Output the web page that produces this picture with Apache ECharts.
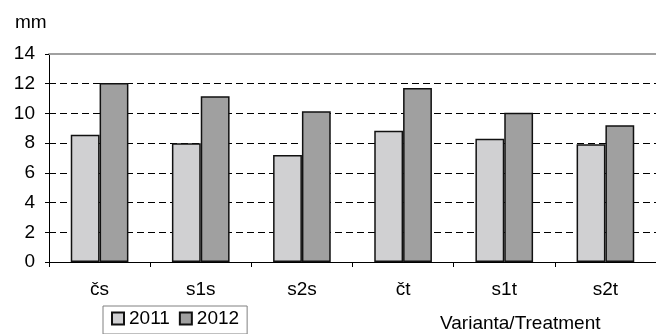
<!DOCTYPE html>
<html>
<head>
<meta charset="utf-8">
<script src="https://cdn.jsdelivr.net/npm/echarts@6/dist/echarts.min.js"></script>
<style>
  html, body { margin: 0; padding: 0; background: #fff; }
  #chart { width: 656px; height: 334px; }
</style>
</head>
<body>
<div id="chart"></div>
<script>
// Treatment variants along the category axis
const categories = ['čs', 's1s', 's2s', 'čt', 's1t', 's2t'];
// Mean values (mm) per year
const values2011 = [8.57, 8.0, 7.2, 8.84, 8.3, 7.92];
const values2012 = [12.05, 11.15, 10.14, 11.71, 10.05, 9.2];
const seriesNames = ['2011', '2012'];
const yTicks = { min: 0, max: 14, step: 2 };
const unitLabel = 'mm';
const axisTitle = 'Varianta/Treatment';

const font = 'Liberation Sans, Arial, sans-serif';
const fs = 19;
const chart = echarts.init(document.getElementById('chart'), null, { renderer: 'canvas' });

chart.setOption({
  animation: false,
  backgroundColor: '#fff',
  textStyle: { fontFamily: font },
  grid: { left: 49, right: -8, top: 54, bottom: 72, containLabel: false },
  legend: {
    left: 103, top: 306,
    orient: 'horizontal',
    data: seriesNames,
    borderColor: '#808080', borderWidth: 1,
    padding: [3, 8, 6, 8],
    itemWidth: 12, itemHeight: 12, itemGap: 9,
    icon: 'rect',
    textStyle: { fontFamily: font, fontSize: fs, color: '#000', padding: [0, 0, 0, 0] }
  },
  xAxis: [{
    type: 'category',
    data: categories,
    boundaryGap: true,
    axisLine: { lineStyle: { color: '#000', width: 1 } },
    axisTick: { show: true, length: 5, inside: false, lineStyle: { color: '#000' } },
    axisLabel: { fontFamily: font, fontSize: fs, color: '#000', margin: 18 },
    splitLine: { show: false }
  }, {
    // solid frame line along the top of the plot
    type: 'category',
    position: 'top',
    data: categories,
    axisLine: { lineStyle: { color: '#a0a0a0', width: 2 } },
    axisTick: { show: false },
    axisLabel: { show: false }
  }],
  yAxis: {
    type: 'value',
    min: yTicks.min, max: yTicks.max, interval: yTicks.step,
    axisLine: { show: true, lineStyle: { color: '#000', width: 1 } },
    axisTick: { show: true, length: 4, lineStyle: { color: '#000' } },
    axisLabel: { fontFamily: font, fontSize: fs, color: '#000', margin: 14 },
    splitLine: { show: true, lineStyle: { color: '#000', type: [7, 4], width: 1 } }
  },
  graphic: [
    { type: 'text', left: 15, top: 13, style: { text: unitLabel, font: fs + 'px ' + font, fill: '#000' } },
    { type: 'text', left: 440, top: 314, style: { text: axisTitle, font: fs + 'px ' + font, fill: '#000' } }
  ],
  series: [{
    name: seriesNames[0], type: 'bar', data: values2011,
    barGap: '0%', barCategoryGap: '43%',
    itemStyle: { color: '#d0d0d2', borderColor: '#111', borderWidth: 1.5 }
  }, {
    name: seriesNames[1], type: 'bar', data: values2012,
    barGap: '0%', barCategoryGap: '43%',
    itemStyle: { color: '#a0a0a0', borderColor: '#111', borderWidth: 1.5 }
  }]
});
</script>
</body>
</html>
